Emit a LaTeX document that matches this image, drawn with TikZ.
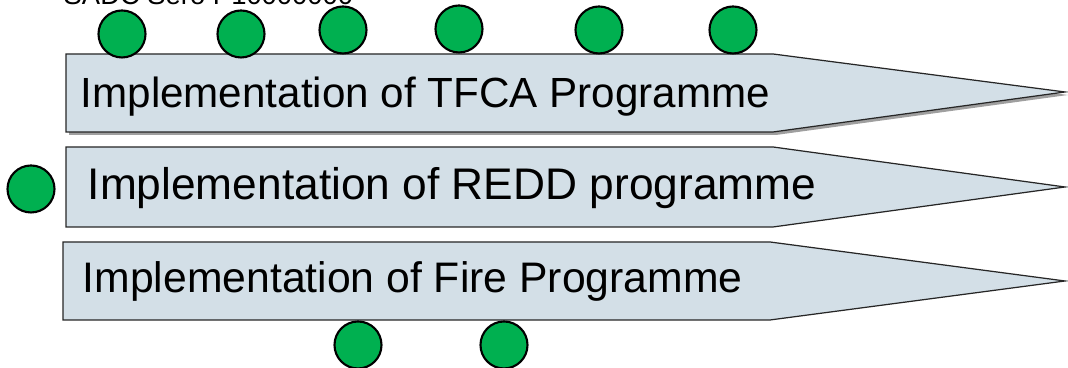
\documentclass[tikz,border=0pt]{standalone}
\usepackage{fontspec}
\setmainfont{Liberation Sans}
\definecolor{dotgreen}{RGB}{0,176,80}
\definecolor{bandfill}{RGB}{211,223,231}
\begin{document}
\begin{tikzpicture}[
    dot/.style={circle,draw=black,line width=0.6pt,fill=dotgreen,minimum size=0.47cm,inner sep=0pt},
    band/.style={draw=black!85,line width=0.35pt,fill=bandfill},
    bandtext/.style={anchor=base west,inner sep=0pt,font=\fontsize{12}{14}\selectfont}]
    % Roadmap of programme implementation
    \useasboundingbox (0,0) rectangle (10.68,3.68);

    % Heading (cut off at the top)
    \node[anchor=base west,inner sep=0pt,font=\fontsize{7.8}{9}\selectfont] (head) at (0.63,3.63) {SADC Sero P10000000};

    % TFCA band, with shadow
    \fill[gray!75] (0.69,3.11) -- (7.76,3.11) -- (10.68,2.73) -- (7.76,2.33) -- (0.69,2.33) -- cycle;
    \draw[band] (0.66,3.14) -- (7.73,3.14) -- (10.65,2.76) -- (7.73,2.36) -- (0.66,2.36) -- cycle;
    \node[bandtext] (tfca) at (0.80,2.60) {Implementation of TFCA Programme};

    % REDD band
    \draw[band] (0.66,2.21) -- (7.73,2.21) -- (10.65,1.81) -- (7.73,1.41) -- (0.66,1.41) -- cycle;
    \node[bandtext,font=\fontsize{12.6}{15}\selectfont] (redd) at (0.87,1.68) {Implementation of REDD programme};

    % Fire band
    \draw[band] (0.63,1.26) -- (7.70,1.26) -- (10.65,0.87) -- (7.70,0.48) -- (0.63,0.48) -- cycle;
    \node[bandtext,font=\fontsize{12.15}{14}\selectfont] (fire) at (0.82,0.75) {Implementation of Fire Programme};

    % Milestones
    \node[dot] (t1) at (1.22,3.34) {};
    \node[dot] (t2) at (2.41,3.34) {};
    \node[dot] (t3) at (3.43,3.38) {};
    \node[dot] (t4) at (4.59,3.39) {};
    \node[dot] (t5) at (5.99,3.38) {};
    \node[dot] (t6) at (7.33,3.38) {};
    \node[dot] (r1) at (0.31,1.79) {};
    \node[dot] (f1) at (3.58,0.23) {};
    \node[dot] (f2) at (5.04,0.23) {};
\end{tikzpicture}
\end{document}
